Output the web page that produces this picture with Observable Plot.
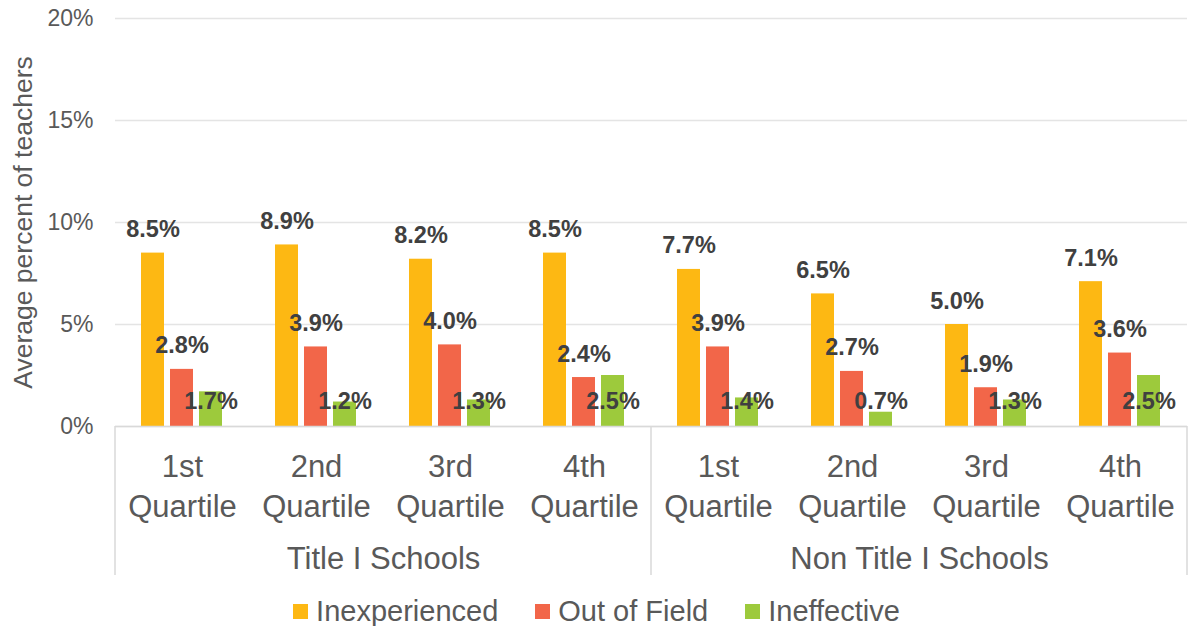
<!DOCTYPE html>
<html><head><meta charset="utf-8">
<script src="https://cdn.jsdelivr.net/npm/d3@7"></script>
<script src="https://cdn.jsdelivr.net/npm/@observablehq/plot@0.6"></script>
<style>
body{margin:0;background:#fff;font-family:"Liberation Sans",Arial,sans-serif;}
#chart svg{display:block}
.legend{display:flex;justify-content:center;align-items:center;gap:37px;font-size:29px;color:#595959;margin-top:7px;line-height:1;}
.legend .item{display:flex;align-items:center;}
.legend .sw{display:inline-block;width:15px;height:15px;margin-right:8px;}
</style></head><body><div id="chart"></div><script>
const groups = ["Title I Schools", "Non Title I Schools"];
const quartiles = ["1st", "2nd", "3rd", "4th"];
const series = ["Inexperienced", "Out of Field", "Ineffective"];
const colors = ["#FDB813", "#F26649", "#9DCA3C"];
const inexperienced = [8.5, 8.9, 8.2, 8.5, 7.7, 6.5, 5.0, 7.1];
const outOfField = [2.8, 3.9, 4.0, 2.4, 3.9, 2.7, 1.9, 3.6];
const ineffective = [1.7, 1.2, 1.3, 2.5, 1.4, 0.7, 1.3, 2.5];
const yTicks = [0, 5, 10, 15, 20];
const yTitle = "Average percent of teachers";

const keys = groups.flatMap(g => quartiles.map(q => g + "|" + q));
const seriesValues = [inexperienced, outOfField, ineffective];
const data = [];
keys.forEach((k, i) => series.forEach((s, j) => data.push({key: k, series: s, value: seriesValues[j][i]})));
const groupLabels = groups.map(g => ({key: g + "|" + quartiles[1], text: g}));

const font = "Liberation Sans, Arial, sans-serif";
const plot = Plot.plot({
  width: 1193,
  height: 590,
  marginLeft: 112,
  marginRight: 3,
  marginTop: 18,
  marginBottom: 164,
  style: {fontFamily: font, background: "#fff", overflow: "visible"},
  fx: {domain: keys, padding: 0, label: null},
  x: {domain: series, paddingInner: 0.2, paddingOuter: 0.84375, axis: null},
  y: {domain: [0, 20], label: null},
  color: {domain: series, range: colors},
  marks: [
    Plot.gridY(yTicks, {stroke: "#e4e4e4", strokeOpacity: 1, strokeWidth: 1.4}),
    Plot.axisY(yTicks, {tickSize: 0, tickPadding: 22, tickFormat: d => d + "%", fontSize: 23, fill: "#595959", label: null}),
    Plot.axisY({ticks: [], tickSize: 0, fontSize: 26.5, fill: "#595959",
      label: yTitle, labelAnchor: "center", labelOffset: 102, labelArrow: "none"}),
    Plot.axisFx({anchor: "bottom", tickSize: 0, tickPadding: 23, fontSize: 31, lineHeight: 1.27, fill: "#595959",
      tickFormat: k => k.split("|")[1] + "\nQuartile", label: null}),
    Plot.barY(data, {fx: "key", x: "series", y: "value", fill: "series"}),
    Plot.ruleY([0], {stroke: "#d9d9d9", strokeWidth: 1.5}),
    Plot.text(data.filter(d => d.series !== series[2]), {fx: "key", x: "series", y: "value", text: d => d.value.toFixed(1) + "%",
      lineAnchor: "bottom", dy: -16, fontSize: 23.5, fontWeight: "bold", fill: "#404040"}),
    Plot.text(data.filter(d => d.series === series[2]), {fx: "key", x: "series", y: () => 0, text: d => d.value.toFixed(1) + "%",
      lineAnchor: "bottom", dy: -18, fontSize: 23.5, fontWeight: "bold", fill: "#404040"}),
    Plot.text(groupLabels, {fx: "key", text: "text", frameAnchor: "bottom-right", textAnchor: "middle", lineAnchor: "bottom",
      dy: 142, fontSize: 31, fill: "#595959"})
  ]
});

// group separator lines of the two-level category axis, from the plot's own scales
const fxS = plot.scale("fx"), yS = plot.scale("y");
const y0 = yS.apply(0);
const seps = [fxS.apply(keys[0]), fxS.apply(keys[4]), fxS.apply(keys[7]) + fxS.bandwidth];
d3.select(plot).append("g").selectAll("line").data(seps).join("line")
  .attr("x1", d => d).attr("x2", d => d).attr("y1", y0).attr("y2", y0 + 149)
  .attr("stroke", "#d9d9d9").attr("stroke-width", 1.5);

document.getElementById("chart").appendChild(plot);

const legend = d3.select("body").append("div").attr("class", "legend");
series.forEach((s, i) => {
  const it = legend.append("div").attr("class", "item");
  it.append("span").attr("class", "sw").style("background", colors[i]);
  it.append("span").text(s);
});
</script></body></html>
